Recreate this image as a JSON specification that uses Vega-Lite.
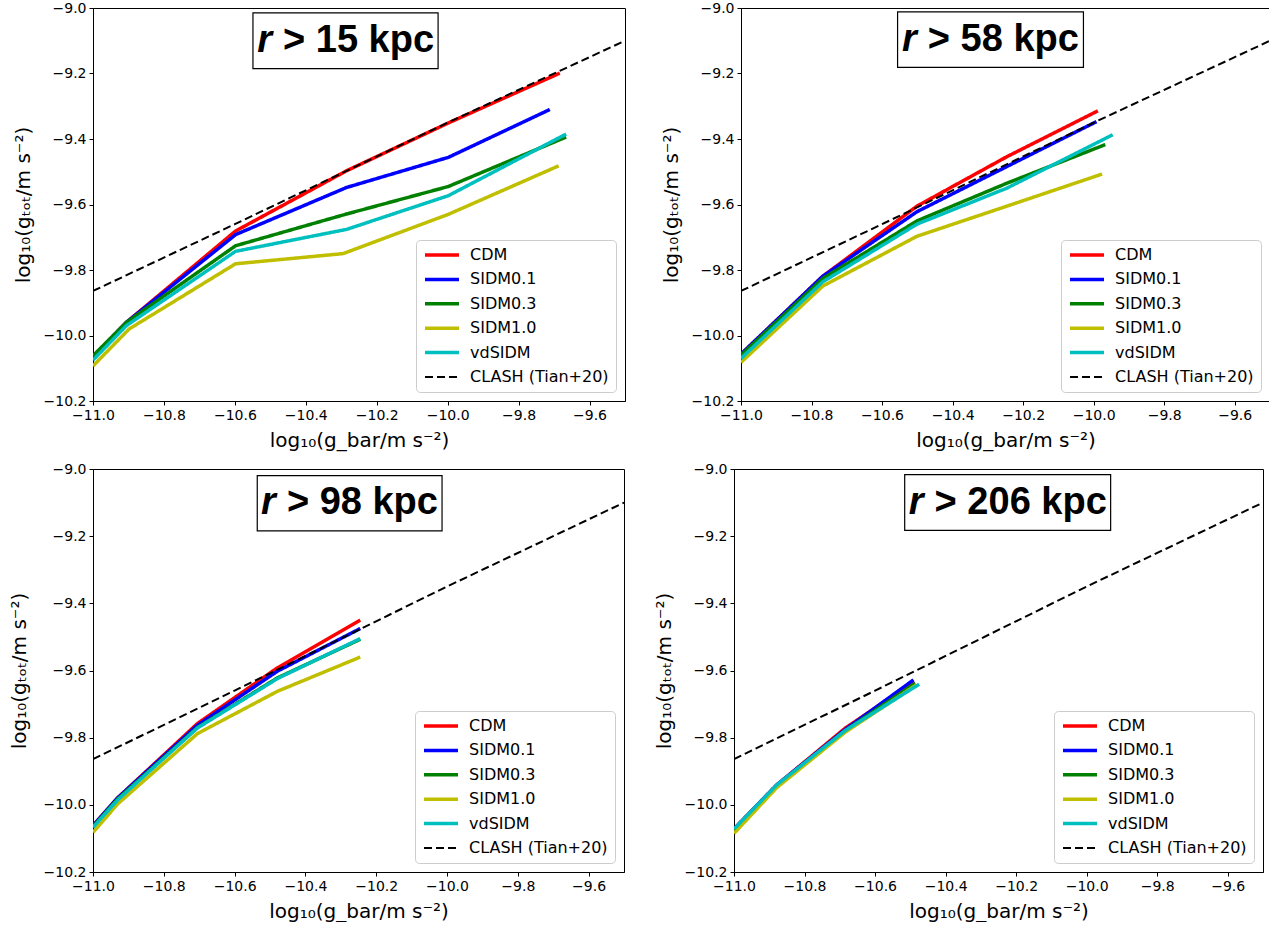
{
  "$schema": "https://vega.github.io/schema/vega-lite/v6.json",
  "background": "white",
  "padding": {"left": 8, "top": 0, "right": 2, "bottom": 0},
  "datasets": {
    "models": [
      {"panel": "r15", "model": "CDM", "x": -11.0, "y": -10.065},
      {"panel": "r15", "model": "CDM", "x": -10.906, "y": -9.96},
      {"panel": "r15", "model": "CDM", "x": -10.598, "y": -9.681},
      {"panel": "r15", "model": "CDM", "x": -10.285, "y": -9.497},
      {"panel": "r15", "model": "CDM", "x": -9.998, "y": -9.351},
      {"panel": "r15", "model": "CDM", "x": -9.684, "y": -9.199},
      {"panel": "r15", "model": "SIDM0.1", "x": -11.0, "y": -10.065},
      {"panel": "r15", "model": "SIDM0.1", "x": -10.906, "y": -9.96},
      {"panel": "r15", "model": "SIDM0.1", "x": -10.598, "y": -9.692},
      {"panel": "r15", "model": "SIDM0.1", "x": -10.285, "y": -9.548},
      {"panel": "r15", "model": "SIDM0.1", "x": -9.998, "y": -9.456},
      {"panel": "r15", "model": "SIDM0.1", "x": -9.712, "y": -9.31},
      {"panel": "r15", "model": "SIDM0.3", "x": -11.0, "y": -10.062},
      {"panel": "r15", "model": "SIDM0.3", "x": -10.906, "y": -9.96},
      {"panel": "r15", "model": "SIDM0.3", "x": -10.598, "y": -9.726},
      {"panel": "r15", "model": "SIDM0.3", "x": -10.285, "y": -9.629},
      {"panel": "r15", "model": "SIDM0.3", "x": -9.998, "y": -9.545},
      {"panel": "r15", "model": "SIDM0.3", "x": -9.666, "y": -9.394},
      {"panel": "r15", "model": "SIDM1.0", "x": -11.0, "y": -10.093},
      {"panel": "r15", "model": "SIDM1.0", "x": -10.898, "y": -9.98},
      {"panel": "r15", "model": "SIDM1.0", "x": -10.598, "y": -9.781},
      {"panel": "r15", "model": "SIDM1.0", "x": -10.295, "y": -9.75},
      {"panel": "r15", "model": "SIDM1.0", "x": -9.998, "y": -9.63},
      {"panel": "r15", "model": "SIDM1.0", "x": -9.687, "y": -9.482},
      {"panel": "r15", "model": "vdSIDM", "x": -11.0, "y": -10.075},
      {"panel": "r15", "model": "vdSIDM", "x": -10.906, "y": -9.97},
      {"panel": "r15", "model": "vdSIDM", "x": -10.598, "y": -9.743},
      {"panel": "r15", "model": "vdSIDM", "x": -10.285, "y": -9.676},
      {"panel": "r15", "model": "vdSIDM", "x": -9.998, "y": -9.573},
      {"panel": "r15", "model": "vdSIDM", "x": -9.666, "y": -9.385},

      {"panel": "r58", "model": "CDM", "x": -11.0, "y": -10.057},
      {"panel": "r58", "model": "CDM", "x": -10.768, "y": -9.819},
      {"panel": "r58", "model": "CDM", "x": -10.501, "y": -9.605},
      {"panel": "r58", "model": "CDM", "x": -10.246, "y": -9.454},
      {"panel": "r58", "model": "CDM", "x": -9.988, "y": -9.314},
      {"panel": "r58", "model": "SIDM0.1", "x": -11.0, "y": -10.057},
      {"panel": "r58", "model": "SIDM0.1", "x": -10.768, "y": -9.819},
      {"panel": "r58", "model": "SIDM0.1", "x": -10.501, "y": -9.622},
      {"panel": "r58", "model": "SIDM0.1", "x": -10.246, "y": -9.484},
      {"panel": "r58", "model": "SIDM0.1", "x": -9.992, "y": -9.347},
      {"panel": "r58", "model": "SIDM0.3", "x": -11.0, "y": -10.06},
      {"panel": "r58", "model": "SIDM0.3", "x": -10.768, "y": -9.826},
      {"panel": "r58", "model": "SIDM0.3", "x": -10.501, "y": -9.65},
      {"panel": "r58", "model": "SIDM0.3", "x": -10.246, "y": -9.535},
      {"panel": "r58", "model": "SIDM0.3", "x": -9.967, "y": -9.417},
      {"panel": "r58", "model": "SIDM1.0", "x": -11.0, "y": -10.082},
      {"panel": "r58", "model": "SIDM1.0", "x": -10.768, "y": -9.849},
      {"panel": "r58", "model": "SIDM1.0", "x": -10.501, "y": -9.697},
      {"panel": "r58", "model": "SIDM1.0", "x": -10.246, "y": -9.605},
      {"panel": "r58", "model": "SIDM1.0", "x": -9.976, "y": -9.507},
      {"panel": "r58", "model": "vdSIDM", "x": -11.0, "y": -10.07},
      {"panel": "r58", "model": "vdSIDM", "x": -10.768, "y": -9.836},
      {"panel": "r58", "model": "vdSIDM", "x": -10.501, "y": -9.66},
      {"panel": "r58", "model": "vdSIDM", "x": -10.246, "y": -9.55},
      {"panel": "r58", "model": "vdSIDM", "x": -9.946, "y": -9.387},

      {"panel": "r98", "model": "CDM", "x": -11.0, "y": -10.062},
      {"panel": "r98", "model": "CDM", "x": -10.93, "y": -9.979},
      {"panel": "r98", "model": "CDM", "x": -10.705, "y": -9.758},
      {"panel": "r98", "model": "CDM", "x": -10.479, "y": -9.592},
      {"panel": "r98", "model": "CDM", "x": -10.245, "y": -9.45},
      {"panel": "r98", "model": "SIDM0.1", "x": -11.0, "y": -10.062},
      {"panel": "r98", "model": "SIDM0.1", "x": -10.93, "y": -9.979},
      {"panel": "r98", "model": "SIDM0.1", "x": -10.705, "y": -9.763},
      {"panel": "r98", "model": "SIDM0.1", "x": -10.479, "y": -9.602},
      {"panel": "r98", "model": "SIDM0.1", "x": -10.245, "y": -9.475},
      {"panel": "r98", "model": "SIDM0.3", "x": -11.0, "y": -10.065},
      {"panel": "r98", "model": "SIDM0.3", "x": -10.93, "y": -9.982},
      {"panel": "r98", "model": "SIDM0.3", "x": -10.705, "y": -9.77},
      {"panel": "r98", "model": "SIDM0.3", "x": -10.479, "y": -9.622},
      {"panel": "r98", "model": "SIDM0.3", "x": -10.245, "y": -9.507},
      {"panel": "r98", "model": "SIDM1.0", "x": -11.0, "y": -10.082},
      {"panel": "r98", "model": "SIDM1.0", "x": -10.93, "y": -9.997},
      {"panel": "r98", "model": "SIDM1.0", "x": -10.705, "y": -9.788},
      {"panel": "r98", "model": "SIDM1.0", "x": -10.479, "y": -9.662},
      {"panel": "r98", "model": "SIDM1.0", "x": -10.245, "y": -9.56},
      {"panel": "r98", "model": "vdSIDM", "x": -11.0, "y": -10.067},
      {"panel": "r98", "model": "vdSIDM", "x": -10.93, "y": -9.985},
      {"panel": "r98", "model": "vdSIDM", "x": -10.705, "y": -9.771},
      {"panel": "r98", "model": "vdSIDM", "x": -10.479, "y": -9.624},
      {"panel": "r98", "model": "vdSIDM", "x": -10.245, "y": -9.505},

      {"panel": "r206", "model": "CDM", "x": -11.0, "y": -10.072},
      {"panel": "r206", "model": "CDM", "x": -10.879, "y": -9.941},
      {"panel": "r206", "model": "CDM", "x": -10.685, "y": -9.772},
      {"panel": "r206", "model": "CDM", "x": -10.489, "y": -9.633},
      {"panel": "r206", "model": "SIDM0.1", "x": -11.0, "y": -10.072},
      {"panel": "r206", "model": "SIDM0.1", "x": -10.879, "y": -9.941},
      {"panel": "r206", "model": "SIDM0.1", "x": -10.685, "y": -9.776},
      {"panel": "r206", "model": "SIDM0.1", "x": -10.491, "y": -9.628},
      {"panel": "r206", "model": "SIDM0.3", "x": -11.0, "y": -10.075},
      {"panel": "r206", "model": "SIDM0.3", "x": -10.879, "y": -9.944},
      {"panel": "r206", "model": "SIDM0.3", "x": -10.685, "y": -9.779},
      {"panel": "r206", "model": "SIDM0.3", "x": -10.486, "y": -9.638},
      {"panel": "r206", "model": "SIDM1.0", "x": -11.0, "y": -10.085},
      {"panel": "r206", "model": "SIDM1.0", "x": -10.879, "y": -9.949},
      {"panel": "r206", "model": "SIDM1.0", "x": -10.685, "y": -9.784},
      {"panel": "r206", "model": "SIDM1.0", "x": -10.483, "y": -9.643},
      {"panel": "r206", "model": "vdSIDM", "x": -11.0, "y": -10.072},
      {"panel": "r206", "model": "vdSIDM", "x": -10.879, "y": -9.941},
      {"panel": "r206", "model": "vdSIDM", "x": -10.685, "y": -9.779},
      {"panel": "r206", "model": "vdSIDM", "x": -10.475, "y": -9.641}
    ],
    "clash": [
      {"model": "CLASH (Tian+20)", "x": -11.0, "y": -9.864},
      {"model": "CLASH (Tian+20)", "x": -10.6, "y": -9.66},
      {"model": "CLASH (Tian+20)", "x": -10.0, "y": -9.35},
      {"model": "CLASH (Tian+20)", "x": -9.5, "y": -9.1}
    ]
  },
  "spacing": 10,
  "resolve": {"legend": {"color": "independent", "strokeDash": "independent"}},
  "vconcat": [
    {
      "spacing": 34,
      "resolve": {"legend": {"color": "independent", "strokeDash": "independent"}},
      "hconcat": [
        {
          "width": 532, "height": 393,
          "layer": [
            {
              "data": {"name": "models"},
              "transform": [{"filter": "datum.panel == 'r15'"}],
              "mark": {"type": "line", "strokeWidth": 3.5, "strokeJoin": "round", "clip": true},
              "encoding": {
                "x": {"field": "x", "type": "quantitative", "scale": {"domain": [-11, -9.5], "nice": false, "zero": false}, "axis": {"values": [-11.0, -10.8, -10.6, -10.4, -10.2, -10.0, -9.8, -9.6], "format": ".1f", "title": "log₁₀(g_bar/m s⁻²)"}},
                "y": {"field": "y", "type": "quantitative", "scale": {"domain": [-10.2, -9.0], "nice": false, "zero": false}, "axis": {"values": [-10.2, -10.0, -9.8, -9.6, -9.4, -9.2, -9.0], "format": ".1f", "title": "log₁₀(gₜₒₜ/m s⁻²)"}},
                "color": {"field": "model", "type": "nominal", "scale": {"domain": ["CDM", "SIDM0.1", "SIDM0.3", "SIDM1.0", "vdSIDM", "CLASH (Tian+20)"], "range": ["#ff0000", "#0000ff", "#008000", "#bfbf00", "#00bfbf", "#000000"]}, "legend": {"title": null, "encode": {"symbols": {"update": {"strokeWidth": {"signal": "datum.value === 'CLASH (Tian+20)' ? 2 : 3.5"}}}}}},
                "strokeDash": {"field": "model", "type": "nominal", "scale": {"domain": ["CDM", "SIDM0.1", "SIDM0.3", "SIDM1.0", "vdSIDM", "CLASH (Tian+20)"], "range": [[1, 0], [1, 0], [1, 0], [1, 0], [1, 0], [8, 4]]}, "legend": {"title": null}}
              }
            },
            {
              "data": {"name": "clash"},
              "mark": {"type": "line", "strokeWidth": 2, "clip": true},
              "encoding": {
                "x": {"field": "x", "type": "quantitative"},
                "y": {"field": "y", "type": "quantitative"},
                "color": {"field": "model", "type": "nominal"},
                "strokeDash": {"field": "model", "type": "nominal"}
              }
            },
            {
              "data": {"values": [{}]},
              "mark": {"type": "rect", "fill": "white", "stroke": "black", "strokeWidth": 1.2},
              "encoding": {"x": {"datum": -10.549}, "x2": {"datum": -10.027}, "y": {"datum": -9.015}, "y2": {"datum": -9.185}}
            },
            {
              "data": {"values": [{}]},
              "mark": {"type": "text", "text": "r", "font": "Liberation Sans", "fontSize": 38, "fontWeight": "bold", "fontStyle": "italic", "align": "right", "baseline": "middle", "dx": -4, "color": "black"},
              "encoding": {"x": {"datum": -10.484}, "y": {"datum": -9.1}}
            },
            {
              "data": {"values": [{}]},
              "mark": {"type": "text", "text": "> 15 kpc", "font": "Liberation Sans", "fontSize": 38, "fontWeight": "bold", "align": "left", "baseline": "middle", "dx": 7, "color": "black"},
              "encoding": {"x": {"datum": -10.484}, "y": {"datum": -9.1}}
            }
          ]
        },
        {
          "width": 529, "height": 393,
          "layer": [
            {
              "data": {"name": "models"},
              "transform": [{"filter": "datum.panel == 'r58'"}],
              "mark": {"type": "line", "strokeWidth": 3.5, "strokeJoin": "round", "clip": true},
              "encoding": {
                "x": {"field": "x", "type": "quantitative", "scale": {"domain": [-11, -9.5], "nice": false, "zero": false}, "axis": {"values": [-11.0, -10.8, -10.6, -10.4, -10.2, -10.0, -9.8, -9.6], "format": ".1f", "title": "log₁₀(g_bar/m s⁻²)"}},
                "y": {"field": "y", "type": "quantitative", "scale": {"domain": [-10.2, -9.0], "nice": false, "zero": false}, "axis": {"values": [-10.2, -10.0, -9.8, -9.6, -9.4, -9.2, -9.0], "format": ".1f", "title": "log₁₀(gₜₒₜ/m s⁻²)"}},
                "color": {"field": "model", "type": "nominal", "scale": {"domain": ["CDM", "SIDM0.1", "SIDM0.3", "SIDM1.0", "vdSIDM", "CLASH (Tian+20)"], "range": ["#ff0000", "#0000ff", "#008000", "#bfbf00", "#00bfbf", "#000000"]}, "legend": {"title": null, "encode": {"symbols": {"update": {"strokeWidth": {"signal": "datum.value === 'CLASH (Tian+20)' ? 2 : 3.5"}}}}}},
                "strokeDash": {"field": "model", "type": "nominal", "scale": {"domain": ["CDM", "SIDM0.1", "SIDM0.3", "SIDM1.0", "vdSIDM", "CLASH (Tian+20)"], "range": [[1, 0], [1, 0], [1, 0], [1, 0], [1, 0], [8, 4]]}, "legend": {"title": null}}
              }
            },
            {
              "data": {"name": "clash"},
              "mark": {"type": "line", "strokeWidth": 2, "clip": true},
              "encoding": {
                "x": {"field": "x", "type": "quantitative"},
                "y": {"field": "y", "type": "quantitative"},
                "color": {"field": "model", "type": "nominal"},
                "strokeDash": {"field": "model", "type": "nominal"}
              }
            },
            {
              "data": {"values": [{}]},
              "mark": {"type": "rect", "fill": "white", "stroke": "black", "strokeWidth": 1.2},
              "encoding": {"x": {"datum": -10.556}, "x2": {"datum": -10.029}, "y": {"datum": -9.012}, "y2": {"datum": -9.181}}
            },
            {
              "data": {"values": [{}]},
              "mark": {"type": "text", "text": "r", "font": "Liberation Sans", "fontSize": 38, "fontWeight": "bold", "fontStyle": "italic", "align": "right", "baseline": "middle", "dx": -4, "color": "black"},
              "encoding": {"x": {"datum": -10.49}, "y": {"datum": -9.0965}}
            },
            {
              "data": {"values": [{}]},
              "mark": {"type": "text", "text": "> 58 kpc", "font": "Liberation Sans", "fontSize": 38, "fontWeight": "bold", "align": "left", "baseline": "middle", "dx": 7, "color": "black"},
              "encoding": {"x": {"datum": -10.49}, "y": {"datum": -9.0965}}
            }
          ]
        }
      ]
    },
    {
      "spacing": 28,
      "resolve": {"legend": {"color": "independent", "strokeDash": "independent"}},
      "hconcat": [
        {
          "width": 531, "height": 403,
          "layer": [
            {
              "data": {"name": "models"},
              "transform": [{"filter": "datum.panel == 'r98'"}],
              "mark": {"type": "line", "strokeWidth": 3.5, "strokeJoin": "round", "clip": true},
              "encoding": {
                "x": {"field": "x", "type": "quantitative", "scale": {"domain": [-11, -9.5], "nice": false, "zero": false}, "axis": {"values": [-11.0, -10.8, -10.6, -10.4, -10.2, -10.0, -9.8, -9.6], "format": ".1f", "title": "log₁₀(g_bar/m s⁻²)"}},
                "y": {"field": "y", "type": "quantitative", "scale": {"domain": [-10.2, -9.0], "nice": false, "zero": false}, "axis": {"values": [-10.2, -10.0, -9.8, -9.6, -9.4, -9.2, -9.0], "format": ".1f", "title": "log₁₀(gₜₒₜ/m s⁻²)", "titlePadding": 14}},
                "color": {"field": "model", "type": "nominal", "scale": {"domain": ["CDM", "SIDM0.1", "SIDM0.3", "SIDM1.0", "vdSIDM", "CLASH (Tian+20)"], "range": ["#ff0000", "#0000ff", "#008000", "#bfbf00", "#00bfbf", "#000000"]}, "legend": {"title": null, "encode": {"symbols": {"update": {"strokeWidth": {"signal": "datum.value === 'CLASH (Tian+20)' ? 2 : 3.5"}}}}}},
                "strokeDash": {"field": "model", "type": "nominal", "scale": {"domain": ["CDM", "SIDM0.1", "SIDM0.3", "SIDM1.0", "vdSIDM", "CLASH (Tian+20)"], "range": [[1, 0], [1, 0], [1, 0], [1, 0], [1, 0], [8, 4]]}, "legend": {"title": null}}
              }
            },
            {
              "data": {"name": "clash"},
              "mark": {"type": "line", "strokeWidth": 2, "clip": true},
              "encoding": {
                "x": {"field": "x", "type": "quantitative"},
                "y": {"field": "y", "type": "quantitative"},
                "color": {"field": "model", "type": "nominal"},
                "strokeDash": {"field": "model", "type": "nominal"}
              }
            },
            {
              "data": {"values": [{}]},
              "mark": {"type": "rect", "fill": "white", "stroke": "black", "strokeWidth": 1.2},
              "encoding": {"x": {"datum": -10.536}, "x2": {"datum": -10.014}, "y": {"datum": -9.02}, "y2": {"datum": -9.184}}
            },
            {
              "data": {"values": [{}]},
              "mark": {"type": "text", "text": "r", "font": "Liberation Sans", "fontSize": 38, "fontWeight": "bold", "fontStyle": "italic", "align": "right", "baseline": "middle", "dx": -4, "color": "black"},
              "encoding": {"x": {"datum": -10.472}, "y": {"datum": -9.102}}
            },
            {
              "data": {"values": [{}]},
              "mark": {"type": "text", "text": "> 98 kpc", "font": "Liberation Sans", "fontSize": 38, "fontWeight": "bold", "align": "left", "baseline": "middle", "dx": 7, "color": "black"},
              "encoding": {"x": {"datum": -10.472}, "y": {"datum": -9.102}}
            }
          ]
        },
        {
          "width": 529, "height": 403,
          "layer": [
            {
              "data": {"name": "models"},
              "transform": [{"filter": "datum.panel == 'r206'"}],
              "mark": {"type": "line", "strokeWidth": 3.5, "strokeJoin": "round", "clip": true},
              "encoding": {
                "x": {"field": "x", "type": "quantitative", "scale": {"domain": [-11, -9.5], "nice": false, "zero": false}, "axis": {"values": [-11.0, -10.8, -10.6, -10.4, -10.2, -10.0, -9.8, -9.6], "format": ".1f", "title": "log₁₀(g_bar/m s⁻²)"}},
                "y": {"field": "y", "type": "quantitative", "scale": {"domain": [-10.2, -9.0], "nice": false, "zero": false}, "axis": {"values": [-10.2, -10.0, -9.8, -9.6, -9.4, -9.2, -9.0], "format": ".1f", "title": "log₁₀(gₜₒₜ/m s⁻²)"}},
                "color": {"field": "model", "type": "nominal", "scale": {"domain": ["CDM", "SIDM0.1", "SIDM0.3", "SIDM1.0", "vdSIDM", "CLASH (Tian+20)"], "range": ["#ff0000", "#0000ff", "#008000", "#bfbf00", "#00bfbf", "#000000"]}, "legend": {"title": null, "encode": {"symbols": {"update": {"strokeWidth": {"signal": "datum.value === 'CLASH (Tian+20)' ? 2 : 3.5"}}}}}},
                "strokeDash": {"field": "model", "type": "nominal", "scale": {"domain": ["CDM", "SIDM0.1", "SIDM0.3", "SIDM1.0", "vdSIDM", "CLASH (Tian+20)"], "range": [[1, 0], [1, 0], [1, 0], [1, 0], [1, 0], [8, 4]]}, "legend": {"title": null}}
              }
            },
            {
              "data": {"name": "clash"},
              "mark": {"type": "line", "strokeWidth": 2, "clip": true},
              "encoding": {
                "x": {"field": "x", "type": "quantitative"},
                "y": {"field": "y", "type": "quantitative"},
                "color": {"field": "model", "type": "nominal"},
                "strokeDash": {"field": "model", "type": "nominal"}
              }
            },
            {
              "data": {"values": [{}]},
              "mark": {"type": "rect", "fill": "white", "stroke": "black", "strokeWidth": 1.2},
              "encoding": {"x": {"datum": -10.516}, "x2": {"datum": -9.932}, "y": {"datum": -9.017}, "y2": {"datum": -9.183}}
            },
            {
              "data": {"values": [{}]},
              "mark": {"type": "text", "text": "r", "font": "Liberation Sans", "fontSize": 38, "fontWeight": "bold", "fontStyle": "italic", "align": "right", "baseline": "middle", "dx": -4, "color": "black"},
              "encoding": {"x": {"datum": -10.451}, "y": {"datum": -9.1}}
            },
            {
              "data": {"values": [{}]},
              "mark": {"type": "text", "text": "> 206 kpc", "font": "Liberation Sans", "fontSize": 38, "fontWeight": "bold", "align": "left", "baseline": "middle", "dx": 7, "color": "black"},
              "encoding": {"x": {"datum": -10.451}, "y": {"datum": -9.1}}
            }
          ]
        }
      ]
    }
  ],
  "config": {
    "font": "DejaVu Sans",
    "view": {"stroke": "#000000", "strokeWidth": 1},
    "axis": {"grid": false, "domainColor": "#000000", "tickColor": "#000000", "tickSize": 4, "labelFont": "DejaVu Sans", "labelFontSize": 14, "labelColor": "#000000", "labelPadding": 3, "labelFlush": false, "titleFont": "DejaVu Sans", "titleFontSize": 20, "titleFontWeight": "normal", "titleColor": "#000000"},
    "axisX": {"titlePadding": 8},
    "axisY": {"titlePadding": 10},
    "legend": {
      "orient": "bottom-right",
      "offset": 9,
      "padding": 7,
      "fillColor": "rgba(255,255,255,0.85)",
      "strokeColor": "#cccccc",
      "cornerRadius": 4,
      "labelFont": "DejaVu Sans",
      "labelFontSize": 16,
      "labelColor": "#000000",
      "labelLimit": 300,
      "symbolType": "M-2.833,0H2.833",
      "symbolSize": 144,
      "symbolStrokeWidth": 3.5,
      "symbolOffset": 11,
      "labelOffset": 20,
      "rowPadding": 8.4
    }
  }
}
